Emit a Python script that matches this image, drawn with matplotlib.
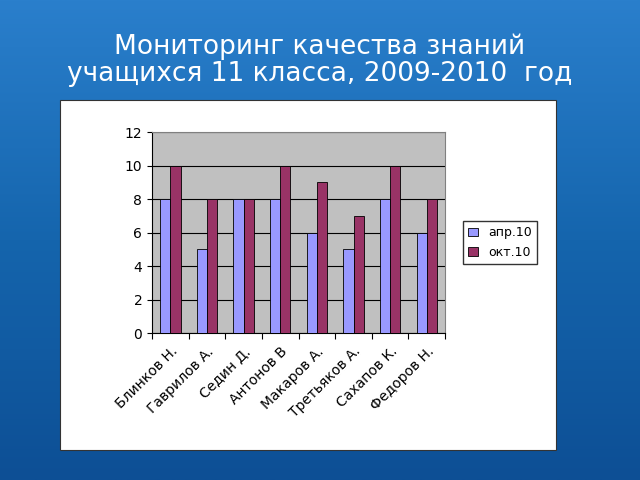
import matplotlib
matplotlib.use("Agg")
import matplotlib.pyplot as plt
import numpy as np
from matplotlib.patches import Rectangle

names = ["Блинков Н.", "Гаврилов А.", "Седин Д.", "Антонов В", "Макаров А.",
         "Третьяков А.", "Сахапов К.", "Федоров Н."]
apr = [8, 5, 8, 8, 6, 5, 8, 6]
okt = [10, 8, 8, 10, 9, 7, 10, 8]
series_labels = ["апр.10", "окт.10"]
title = "Мониторинг качества знаний\nучащихся 11 класса, 2009-2010  год"

fig = plt.figure(figsize=(6.4, 4.8), dpi=100)
bg = fig.add_axes([0, 0, 1, 1])
grad = np.linspace(0, 1, 256).reshape(-1, 1)
from matplotlib.colors import LinearSegmentedColormap
cm = LinearSegmentedColormap.from_list("b", ["#2a7fcc", "#1565ad", "#0d4f95"])
bg.imshow(grad, aspect="auto", cmap=cm, extent=[0, 1, 0, 1], origin="upper")
bg.set_xlim(0, 1); bg.set_ylim(0, 1); bg.axis("off")
bg.add_patch(Rectangle((0.094, 0.0625), 0.775, 0.729, facecolor="white",
                       edgecolor="#333333", lw=0.8))
bg.text(0.5, 0.875, title, ha="center", va="center", color="white",
        fontsize=19, linespacing=1.05)

ax = fig.add_axes([0.2375, 0.306, 0.458, 0.419])
ax.set_facecolor("#c0c0c0")
x = np.arange(len(names))
w = 0.28
ax.bar(x - w/2, apr, w, color="#9999ff", edgecolor="black", lw=0.6, label=series_labels[0], zorder=3)
ax.bar(x + w/2, okt, w, color="#993366", edgecolor="black", lw=0.6, label=series_labels[1], zorder=3)
ax.set_ylim(0, 12)
ax.set_yticks(range(0, 13, 2))
ax.set_xlim(-0.5, len(names) - 0.5)
ax.set_xticks(np.arange(len(names) + 1) - 0.5, minor=False)
ax.set_xticklabels([])
ax.set_xticks(x, minor=True)
ax.set_xticklabels(names, minor=True, rotation=45, ha="right", rotation_mode="anchor", fontsize=10)
ax.tick_params(axis="x", which="minor", length=0, pad=8)
ax.tick_params(axis="x", which="major", length=4, direction="out")
ax.tick_params(axis="y", labelsize=10)
ax.grid(axis="y", color="black", lw=0.8, zorder=0)
for s in ["top", "right"]:
    ax.spines[s].set_color("#808080")
leg = ax.legend(loc="center left", bbox_to_anchor=(1.04, 0.45), frameon=True,
                fancybox=False, edgecolor="black", fontsize=9, handlelength=0.8)
fig.savefig("out.png", dpi=100)
